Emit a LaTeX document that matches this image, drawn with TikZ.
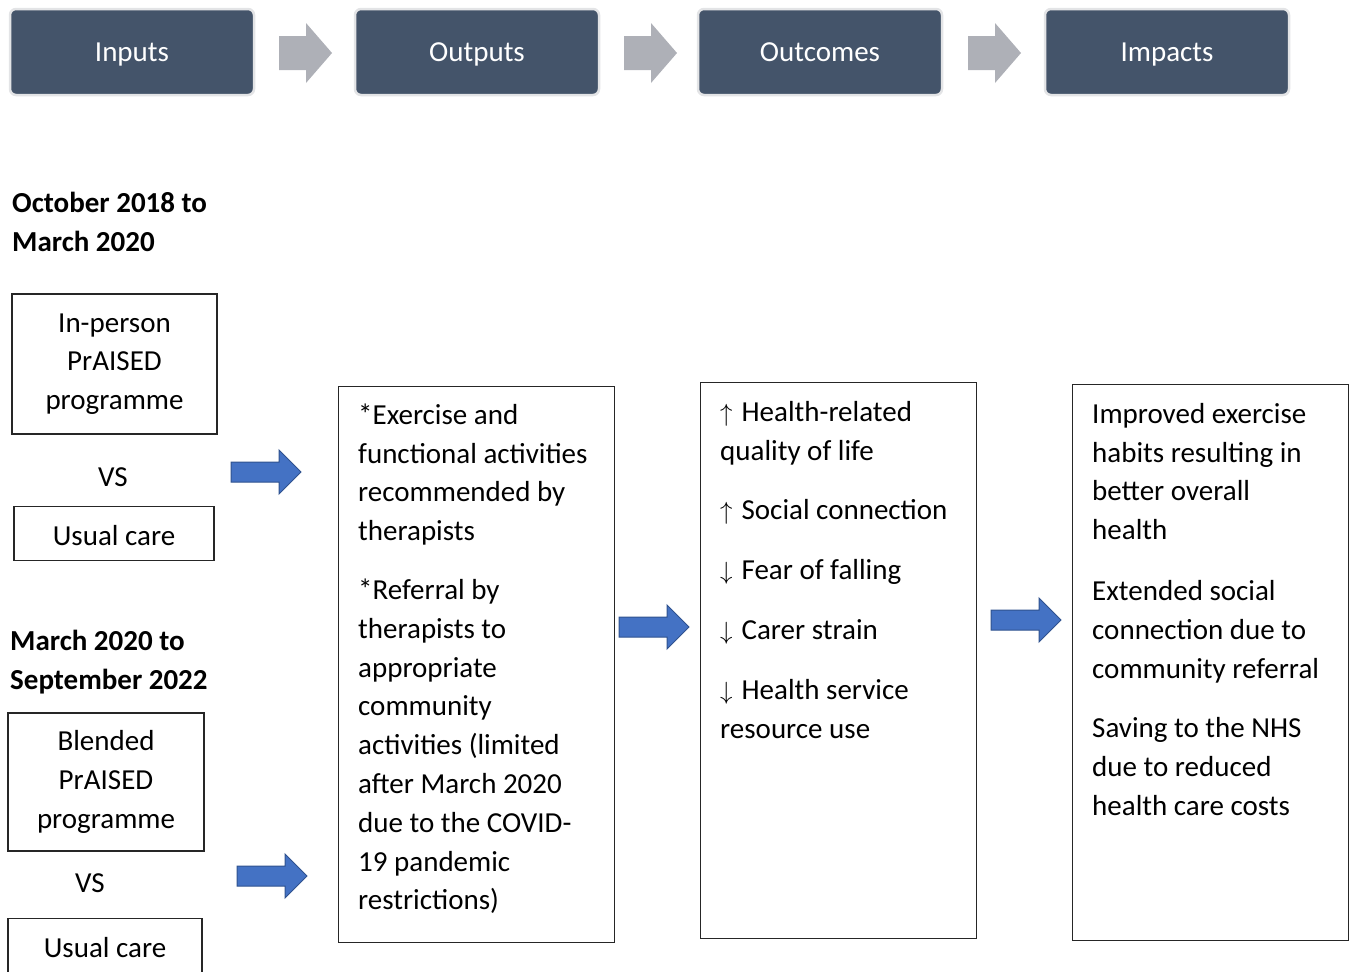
\documentclass[tikz,border=0pt]{standalone}
\usepackage{fontspec}
\setmainfont{Carlito}
\definecolor{hdrblue}{HTML}{44546A}
\definecolor{hdredge}{HTML}{E3E4E6}
\definecolor{arrgray}{HTML}{AEB0B7}
\definecolor{arrblue}{HTML}{4472C4}
\definecolor{arredge}{HTML}{2F528F}
\newcommand{\bodysize}{\fontsize{29}{38.8}\selectfont}
\newcommand{\firststrut}{\rule{0pt}{30pt}}
\newcommand{\upar}{$\uparrow$\hspace{9pt}}
\newcommand{\dnar}{$\downarrow$\hspace{9pt}}
\tikzset{
  x=1pt, y=-1pt,
  hdr/.style={rounded corners=6pt, fill=hdrblue, draw=hdredge, line width=2.5pt,
    minimum width=244pt, minimum height=86pt, text=white, font=\bodysize, inner sep=0pt,
    text height=20pt, text depth=2pt},
  plainbox/.style={draw=black!85, line width=1.2pt, inner sep=0pt},
  bodytext/.style={font=\bodysize, inner sep=0pt, align=left, anchor=north west},
  headtext/.style={font=\bodysize\bfseries, inner sep=0pt, align=left, anchor=north west},
  grayarrow/.pic={\fill[arrgray] (0,-17) -- (27,-17) -- (27,-30) -- (53,0) -- (27,30) -- (27,17) -- (0,17) -- cycle;},
  bluearrow/.pic={\filldraw[fill=arrblue, draw=arredge, line width=1pt, line join=miter] (0,-10) -- (48,-10) -- (48,-22) -- (70,0) -- (48,22) -- (48,10) -- (0,10) -- cycle;}
}
\begin{document}
\begin{tikzpicture}
\useasboundingbox (0,0) rectangle (1355,972);
% header row
\node[hdr] (hin) at (132,52) {Inputs};
\node[hdr] (hout) at (477,52) {Outputs};
\node[hdr] (hoc) at (820,52) {Outcomes};
\node[hdr] (him) at (1167,52) {Impacts};
\pic at (279,53) {grayarrow};
\pic at (624,53) {grayarrow};
\pic at (968,53) {grayarrow};
% left column
\node[headtext] (per1) at (12,182) {\firststrut October 2018 to\\March 2020};
\node[plainbox, minimum width=205pt, minimum height=140pt, align=center, font=\bodysize] (inperson) at (114.5,364) {In-person\\PrAISED\\programme};
\node[font=\bodysize, inner sep=0pt, anchor=base] (vs1) at (113,486) {VS};
\node[plainbox, anchor=north, minimum width=200pt, text height=39pt, text depth=15pt, font=\bodysize] (uc1) at (114,506) {Usual care};
\node[headtext] (per2) at (10,620) {\firststrut March 2020 to\\September 2022};
\node[plainbox, minimum width=196pt, minimum height=138pt, align=center, font=\bodysize] (blended) at (106,782) {Blended\\PrAISED\\programme};
\node[font=\bodysize, inner sep=0pt, anchor=base] (vs2) at (90,892) {VS};
\node[plainbox, anchor=north, minimum width=194pt, text height=39pt, text depth=30pt, font=\bodysize] (uc2) at (105,918) {Usual care};
% blue arrows
\pic at (231,472) {bluearrow};
\pic at (237,876) {bluearrow};
\pic at (619,627) {bluearrow};
\pic at (991,620) {bluearrow};
% columns
\node[plainbox, anchor=north west, minimum width=276pt, minimum height=556pt] (outbox) at (338,386) {};
\node[bodytext] (outtext) at (358,394) {\firststrut *Exercise and\\functional activities\\recommended by\\therapists\\[20pt]*Referral by\\therapists to\\appropriate\\community\\activities (limited\\after March 2020\\due to the COVID-\\19 pandemic\\restrictions)};
\node[plainbox, anchor=north west, minimum width=276pt, minimum height=556pt] (ocbox) at (700,382) {};
\node[bodytext] (octext) at (720,391) {\firststrut\upar Health-related\\quality of life\\[21pt]\upar Social connection\\[21pt]\dnar Fear of falling\\[21pt]\dnar Carer strain\\[21pt]\dnar Health service\\resource use};
\node[plainbox, anchor=north west, minimum width=276pt, minimum height=556pt] (imbox) at (1072,384) {};
\node[bodytext] (imtext) at (1092,393) {\firststrut Improved exercise\\habits resulting in\\better overall\\health\\[22pt]Extended social\\connection due to\\community referral\\[21pt]Saving to the NHS\\due to reduced\\health care costs};
\end{tikzpicture}
\end{document}
